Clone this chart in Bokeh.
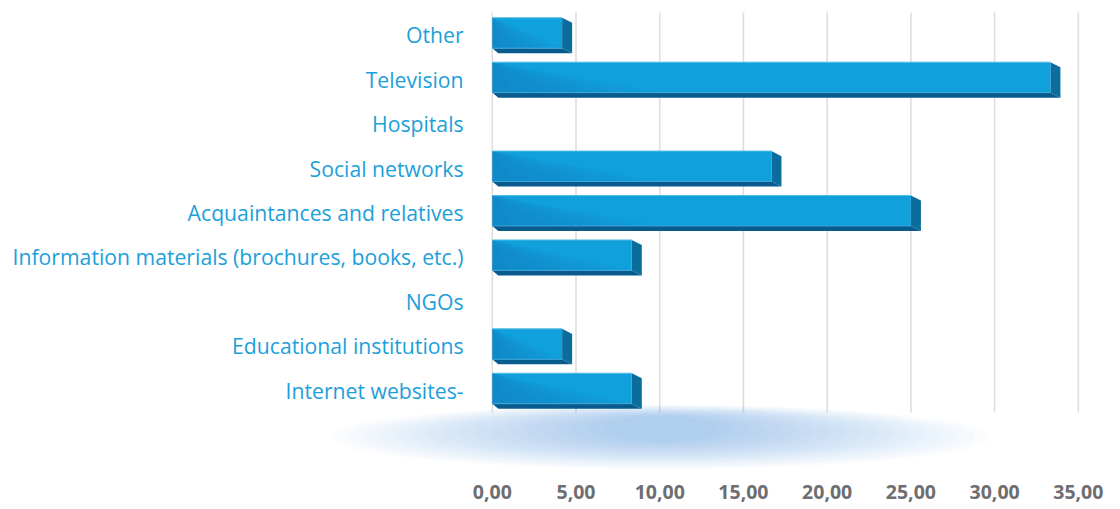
import numpy as np
from bokeh.plotting import figure
from bokeh.models import Range1d, FixedTicker
from bokeh.embed import file_html
from bokeh.resources import INLINE
from bokeh.core.properties import value

# ---- data ----
categories = ["Other", "Television", "Hospitals", "Social networks",
              "Acquaintances and relatives",
              "Information materials (brochures, books, etc.)", "NGOs",
              "Educational institutions", "Internet websites-"]
values = [4.17, 33.33, 0.0, 16.67, 25.00, 8.33, 0.0, 4.17, 8.33]
x_ticks = [0, 5, 10, 15, 20, 25, 30, 35]
x_tick_labels = ["0,00", "5,00", "10,00", "15,00", "20,00", "25,00", "30,00", "35,00"]

n = len(categories)
pos = [n - 1 - i for i in range(n)]          # Other on top

# ---- figure ----
p = figure(width=1116, height=508, output_backend="svg",
           toolbar_location=None, x_range=Range1d(-29.37, 37.28),
           y_range=Range1d(-1.985, 8.771), y_axis_location=None,
           min_border_left=0, min_border_right=0, min_border_top=0,
           min_border_bottom=30, background_fill_color="white")
p.outline_line_color = None
p.xgrid.visible = False
p.ygrid.visible = False

ax = p.xaxis[0]
ax.ticker = FixedTicker(ticks=x_ticks)
ax.major_label_overrides = {t: l for t, l in zip(x_ticks, x_tick_labels)}
ax.axis_line_color = None
ax.major_tick_line_color = None
ax.minor_tick_line_color = None
ax.major_tick_out = 0
ax.major_label_standoff = 6
ax.major_label_text_font = "Open Sans"
ax.major_label_text_font_style = "bold"
ax.major_label_text_font_size = "19.5px"
ax.major_label_text_color = "#6d6e71"

# gridlines (category band span)
p.segment(x0=x_ticks, x1=x_ticks, y0=[-0.5] * len(x_ticks),
          y1=[n - 0.5] * len(x_ticks), line_color="#dedede", line_width=1.6)

# shadow ellipse (layered for soft gradient)
cx = 10.05
layers = 18
for j in range(layers):
    s = 1.0 - j * (0.88 / layers)
    p.ellipse(x=[cx], y=[-1.05 + 0.22 * (1 - s)], width=[39.4 * s],
              height=[1.45 * (0.28 + 0.72 * s)], fill_color="#3a86d2",
              fill_alpha=0.028, line_color=None)

# ---- 3D bars ----
dx, dy = 0.6, 0.113
top_off, bot_off = 0.382, -0.302
front_l, front_r, front_b, front_t = [], [], [], []
side_xs, side_ys, bot_xs, bot_ys = [], [], [], []
shade = {j: ([], []) for j in range(1, 9)}
for v, k in zip(values, pos):
    if v <= 0:
        continue
    t, b = k + top_off, k + bot_off
    front_l.append(0); front_r.append(v); front_b.append(b); front_t.append(t)
    side_xs.append([v, v + dx, v + dx, v]); side_ys.append([t, t - dy, b - dy, b])
    bot_xs.append([0, v, v + dx, dx * 0.6]); bot_ys.append([b, b, b - dy, b - dy])
    w = min(v, 10.0)
    for j in shade:
        ww = w * j / 8.0
        shade[j][0].append([0, ww, 0]); shade[j][1].append([b, b, t])

p.patches(bot_xs, bot_ys, fill_color="#0a5b8d", line_color=None)
p.patches(side_xs, side_ys, fill_color="#0b6d9c", line_color=None)
p.quad(left=front_l, right=front_r, bottom=front_b, top=front_t,
       fill_color="#10a0dc", line_color=None)
for j in shade:
    p.patches(shade[j][0], shade[j][1], fill_color="#1d6db5", fill_alpha=0.07, line_color=None)
p.segment(x0=front_l, x1=front_r, y0=front_t, y1=front_t, line_color="#4dbbe6", line_width=1)
p.segment(x0=front_l, x1=front_r, y0=front_b, y1=front_b, line_color="#3da6d6", line_width=1)

# category labels
p.text(x=[-1.714] * n, y=pos, text=categories, text_align="right",
       text_baseline="middle", text_font=value("Open Sans"),
       text_font_size="21.2px", text_color="#1ca0da")

open("out.html", "w").write(file_html(p, INLINE))
